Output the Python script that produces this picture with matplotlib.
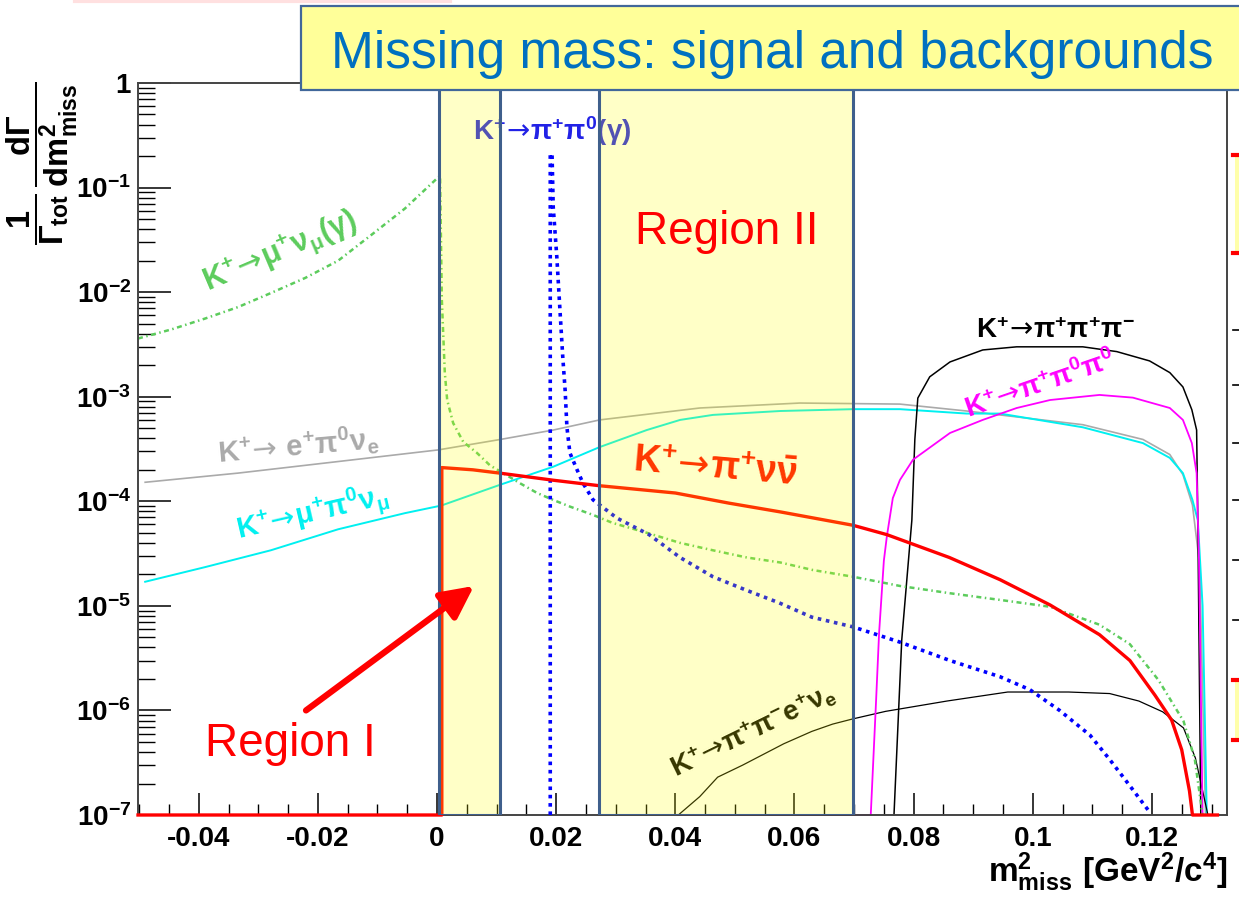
import numpy as np
import matplotlib
matplotlib.use('Agg')
import matplotlib.pyplot as plt
from matplotlib.patches import Rectangle
from matplotlib.lines import Line2D
from matplotlib.ticker import LogLocator, NullFormatter, MultipleLocator, FixedLocator

plt.rcParams['font.family'] = ['Liberation Sans', 'DejaVu Sans']
plt.rcParams['mathtext.fontset'] = 'custom'
plt.rcParams['mathtext.rm'] = 'DejaVu Sans'
plt.rcParams['mathtext.bf'] = 'Liberation Sans:bold'
plt.rcParams['mathtext.it'] = 'Liberation Sans:bold:italic'

# DADOS
# K+ -> pi+ nu nubar (sinal)
x_pnn = [-0.0502, 0.0008, 0.0008, 0.0060, 0.0105, 0.0195, 0.0272, 0.040, 0.049, 0.0577,
         0.0698, 0.0755, 0.086, 0.0945, 0.1029, 0.1112, 0.1163, 0.1205, 0.1233, 0.1250,
         0.1263, 0.1268, 0.1310]
y_pnn = [1e-7, 1e-7, 2.1e-4, 2.0e-4, 1.86e-4, 1.59e-4, 1.41e-4, 1.2e-4, 9.6e-5, 7.9e-5,
         5.9e-5, 4.8e-5, 2.9e-5, 1.78e-5, 1.02e-5, 5.3e-6, 3.0e-6, 1.4e-6, 8.1e-7, 4.2e-7,
         1.7e-7, 1e-7, 1e-7]

# K+ -> pi+ pi0 (gamma)
x_ppi0 = [0.0190, 0.0190, 0.0193, 0.0195, 0.0201, 0.0206, 0.0211, 0.0215, 0.0218, 0.0223,
          0.0235, 0.0245, 0.0262, 0.0279, 0.0302, 0.0356, 0.0408, 0.0463, 0.0518, 0.0574,
          0.0629, 0.0698, 0.0777, 0.0861, 0.0945, 0.0995, 0.1045, 0.1096, 0.1129, 0.1163, 0.1196]
y_ppi0 = [1e-7, 0.21, 0.21, 0.065, 0.0218, 7.2e-3, 2.4e-3, 1.15e-3, 5.1e-4, 2.9e-4,
          2.0e-4, 1.49e-4, 1.03e-4, 8.7e-5, 6.9e-5, 4.8e-5, 2.9e-5, 1.9e-5, 1.42e-5, 1.07e-5,
          7.8e-6, 6.3e-6, 4.5e-6, 3.0e-6, 2.1e-6, 1.58e-6, 1.0e-6, 5.8e-7, 3.4e-7, 1.9e-7, 1.07e-7]

# K+ -> mu+ nu (gamma)
x_munu = [-0.0502, -0.0446, -0.0389, -0.0334, -0.0279, -0.0221, -0.0166, -0.0111, -0.0054, -0.0003,
          0.0005, 0.0008, 0.0013, 0.0017, 0.0027, 0.0044, 0.0067, 0.0089, 0.0111, 0.0139,
          0.0168, 0.0195, 0.0223, 0.0262, 0.0295, 0.0352, 0.0408, 0.0463, 0.0520, 0.0576,
          0.0631, 0.0698, 0.0777, 0.0861, 0.0945, 0.1029, 0.1112, 0.1163, 0.1211, 0.1253,
          0.1272, 0.1285]
y_munu = [3.6e-3, 4.4e-3, 5.6e-3, 7.2e-3, 9.8e-3, 1.37e-2, 2.0e-2, 3.5e-2, 6.3e-2, 0.118,
          0.13, 8.5e-3, 1.7e-3, 9.3e-4, 5.6e-4, 3.7e-4, 2.9e-4, 2.2e-4, 1.86e-4, 1.49e-4,
          1.2e-4, 1.03e-4, 8.9e-5, 7.4e-5, 6.2e-5, 5.0e-5, 4.0e-5, 3.4e-5, 2.9e-5, 2.6e-5,
          2.2e-5, 1.9e-5, 1.55e-5, 1.32e-5, 1.14e-5, 9.8e-6, 6.6e-6, 4.3e-6, 1.95e-6, 7.9e-7,
          3.4e-7, 1e-7]

# K+ -> e+ pi0 nu_e
x_e3 = [-0.0490, -0.0334, -0.0166, 0.0002, 0.0106, 0.0195, 0.0273, 0.0441, 0.0609, 0.0777,
        0.0889, 0.1084, 0.1185, 0.1230, 0.1252, 0.1268, 0.1280, 0.1290]
y_e3 = [1.52e-4, 1.86e-4, 2.4e-4, 3.1e-4, 3.9e-4, 4.8e-4, 6.0e-4, 7.8e-4, 8.7e-4, 8.5e-4,
        7.3e-4, 5.4e-4, 3.9e-4, 2.8e-4, 1.8e-4, 9.2e-5, 2.5e-5, 1e-7]

# K+ -> mu+ pi0 nu_mu
x_mu3 = [-0.0490, -0.0389, -0.0279, -0.0166, -0.0054, 0.0007, 0.0106, 0.0195, 0.0273, 0.0352,
         0.0408, 0.0463, 0.0576, 0.0698, 0.0777, 0.0889, 0.0945, 0.1084, 0.1185, 0.1230,
         0.1252, 0.1268, 0.1277, 0.1285, 0.1292]
y_mu3 = [1.7e-5, 2.35e-5, 3.4e-5, 5.4e-5, 7.7e-5, 9.1e-5, 1.44e-4, 2.14e-4, 3.3e-4, 4.8e-4,
         6.0e-4, 6.7e-4, 7.3e-4, 7.6e-4, 7.6e-4, 6.9e-4, 6.9e-4, 5.1e-4, 3.6e-4, 2.6e-4,
         1.86e-4, 1.03e-4, 6.6e-5, 1e-5, 1e-7]

# K+ -> pi+ pi+ pi-
x_3pi = [0.0767, 0.0780, 0.0797, 0.0802, 0.0807, 0.0827, 0.0861, 0.0916, 0.0973, 0.1084,
         0.1141, 0.1196, 0.1230, 0.1252, 0.1267, 0.1275, 0.1277, 0.1282]
y_3pi = [1e-7, 4.7e-6, 6.6e-5, 3.9e-4, 9.7e-4, 1.55e-3, 2.15e-3, 2.8e-3, 3.0e-3, 3.0e-3,
         2.7e-3, 2.2e-3, 1.7e-3, 1.24e-3, 7.5e-4, 4.8e-4, 6.6e-5, 1e-7]

# K+ -> pi+ pi0 pi0
x_2pi0 = [0.0405, 0.0728, 0.0737, 0.0742, 0.0750, 0.0755, 0.0765, 0.0777, 0.0799, 0.0861,
          0.0916, 0.0973, 0.1029, 0.1112, 0.1168, 0.1230, 0.1252, 0.1267, 0.1275, 0.1279, 0.1285]
y_2pi0 = [1e-7, 1e-7, 1.26e-6, 5.5e-6, 2.7e-5, 4.6e-5, 1.07e-4, 1.6e-4, 2.5e-4, 4.5e-4,
          6.0e-4, 7.8e-4, 9.3e-4, 1.04e-3, 9.8e-4, 7.8e-4, 6.0e-4, 3.6e-4, 1.86e-4, 2.7e-5, 1e-7]

# K+ -> pi+ pi- e+ nu_e
x_ke4 = [0.0405, 0.0441, 0.0471, 0.0513, 0.0582, 0.0629, 0.0664, 0.0698, 0.0753, 0.0856,
         0.0958, 0.1060, 0.1129, 0.1178, 0.1218, 0.1253, 0.1273, 0.1294]
y_ke4 = [1e-7, 1.5e-7, 2.3e-7, 3.0e-7, 4.8e-7, 6.3e-7, 7.4e-7, 8.3e-7, 9.8e-7, 1.23e-6,
         1.5e-6, 1.5e-6, 1.45e-6, 1.23e-6, 9.7e-7, 6.8e-7, 3.5e-7, 1e-7]

# regioes de sinal
REGIAO_1 = (0.0003, 0.0106)
REGIAO_2 = (0.0272, 0.0698)

xtick_vals = [-0.04, -0.02, 0.0, 0.02, 0.04, 0.06, 0.08, 0.10, 0.12]
xtick_labels = ['-0.04', '-0.02', '0', '0.02', '0.04', '0.06', '0.08', '0.1', '0.12']
ytick_vals = [1e-7, 1e-6, 1e-5, 1e-4, 1e-3, 1e-2, 1e-1, 1.0]
ytick_labels = [r'$\mathbf{10^{-7}}$', r'$\mathbf{10^{-6}}$', r'$\mathbf{10^{-5}}$',
                r'$\mathbf{10^{-4}}$', r'$\mathbf{10^{-3}}$', r'$\mathbf{10^{-2}}$',
                r'$\mathbf{10^{-1}}$', '1']

W, H = 1239, 898


def decay(produtos):
    # "K+ -> produtos" com a seta em DejaVu (mais comprida e centrada)
    return r'$\mathbf{K^{+}}\!\rightarrow\!\mathbf{' + produtos + '}$'


def px(x, y):
    # pixel da imagem -> fracao da figura
    return x / W, 1 - y / H


fig = plt.figure(figsize=(W / 100, H / 100), dpi=100)
ax = fig.add_axes([138 / W, 1 - 815 / H, (1227 - 138) / W, (815 - 83) / H])

ax.set_yscale('log')
ax.set_xlim(-0.0502, 0.1326)
ax.set_ylim(1e-7, 1.0)

ax.plot(x_e3, y_e3, color='#aaaaaa', lw=1.2, clip_on=False, zorder=2)
ax.plot(x_mu3, y_mu3, color='#00f0f0', lw=1.4, clip_on=False, zorder=2.1)
ax.plot(x_ke4, y_ke4, color='black', lw=0.9, clip_on=False, zorder=2.2)
ax.plot(x_3pi, y_3pi, color='black', lw=1.1, clip_on=False, zorder=2.3)
ax.plot(x_2pi0, y_2pi0, color='#ff00ff', lw=1.3, clip_on=False, zorder=2.4)
ax.plot(x_munu, y_munu, color='#5ccc5c', lw=1.8, dashes=(2.0, 1.4, 0.6, 1.4), clip_on=False, zorder=2.5)
ax.plot(x_ppi0, y_ppi0, color='#0000ff', lw=2.6, dashes=(1, 1.3), clip_on=False, zorder=2.6)
ax.plot(x_pnn, y_pnn, color='#ff0000', lw=2.4, clip_on=False, zorder=2.7)

# faixas amarelas por cima das curvas
for x0, x1 in (REGIAO_1, REGIAO_2):
    ax.axvspan(x0, x1, facecolor=(1, 1, 0, 0.22), edgecolor='#3f5f8c', lw=2.2, zorder=3)

ax.xaxis.set_major_locator(FixedLocator(xtick_vals))
ax.set_xticklabels(xtick_labels)
ax.xaxis.set_minor_locator(MultipleLocator(0.005))
ax.set_yticks(ytick_vals)
ax.set_yticklabels(ytick_labels)
ax.yaxis.set_minor_locator(LogLocator(base=10, subs=np.arange(2, 10)))
ax.yaxis.set_minor_formatter(NullFormatter())

ax.tick_params(axis='x', which='major', direction='in', length=16, width=1.1, pad=8,
               labelsize=20)
ax.tick_params(axis='x', which='minor', direction='in', length=8, width=1.0)
ax.tick_params(axis='y', which='major', direction='in', length=24, width=1.1, pad=5,
               labelsize=20)
ax.tick_params(axis='y', which='minor', direction='in', length=12, width=1.0)
for lab in ax.get_xticklabels() + ax.get_yticklabels():
    lab.set_fontweight('bold')
for s in ax.spines.values():
    s.set_color('#444444')
    s.set_linewidth(1.4)

# rotulos das curvas
txt = dict(transform=fig.transFigure, ha='center', va='center', zorder=2.9)
ax.text(*px(280, 252), decay(r'\mu^{+}\nu_{\mu}(\gamma)'), color='#5ccc5c',
        fontsize=22, rotation=23, **txt)
ax.text(*px(298, 445), decay(r'\ e^{+}\pi^{0}\nu_{e}'), color='#aaaaaa',
        fontsize=21, rotation=5, **txt)
ax.text(*px(312, 513), decay(r'\mu^{+}\pi^{0}\nu_{\mu}'), color='#00f0f0',
        fontsize=21, rotation=13, **txt)
ax.text(*px(552, 131), decay(r'\pi^{+}\pi^{0}(\gamma)'), color='#2222e6',
        fontsize=20, rotation=0, **txt)
ax.text(*px(715, 468), decay(r'\pi^{+}\nu\bar{\nu}'), color='#ff0000',
        fontsize=27, rotation=-5, **txt)
ax.text(*px(1055, 331), decay(r'\pi^{+}\pi^{+}\pi^{-}'), color='black',
        fontsize=20, rotation=0, **txt)
ax.text(*px(1040, 385), decay(r'\pi^{+}\pi^{0}\pi^{0}'), color='#ff00ff',
        fontsize=20, rotation=19, **txt)
ax.text(*px(753, 731), decay(r'\pi^{+}\pi^{-}e^{+}\nu_{e}'), color='black',
        fontsize=20, rotation=26, **txt)

# textos das regioes
fig.text(*px(727, 244), 'Region II', color='#ff0000', fontsize=33, ha='center', va='baseline',
         zorder=5)
fig.text(*px(290, 756), 'Region I', color='#ff0000', fontsize=33, ha='center', va='baseline',
         zorder=5)
ax.annotate('', xy=(0.0062, 1.55e-5), xytext=(-0.022, 1.0e-6),
            arrowprops=dict(arrowstyle='-|>,head_length=0.9,head_width=0.45', color='#ff0000',
                            lw=4.5, mutation_scale=22, shrinkA=0, shrinkB=0), zorder=5)

# eixos
fig.text(*px(42, 163), r'$\dfrac{\mathbf{1}}{\mathbf{\Gamma_{tot}}}\,\dfrac{\mathbf{d\Gamma}}{\mathbf{dm^{2}_{miss}}}$',
         fontsize=23.5, rotation=90, ha='center', va='center')
fig.text(*px(1227, 882), r'$\mathbf{m^{2}_{miss}\ [GeV^{2}/c^{4}]}$', fontsize=24,
         ha='right', va='baseline')

# caixa do titulo
x0, y0 = px(301, 90)
fig.add_artist(Rectangle((x0, y0), 1.0, 84 / H, transform=fig.transFigure,
                         facecolor='#ffff99', edgecolor='#41679a', lw=1.6, zorder=10))
fig.text(*px(772, 68), 'Missing mass: signal and backgrounds', color='#0070c0', fontsize=37,
         ha='center', va='baseline', zorder=11)

# restos de outro painel na borda direita
for yy in (155, 253, 680, 740):
    fig.add_artist(Line2D([1233 / W, 1.0], [1 - yy / H] * 2, color='#ff0000', lw=3,
                          transform=fig.transFigure))
for ya, yb in ((155, 253), (680, 740)):
    fig.add_artist(Rectangle((1235 / W, 1 - yb / H), 5 / W, (yb - ya) / H, transform=fig.transFigure,
                             facecolor='#ffffaa', edgecolor='none'))
for yy in (330, 385, 443, 500, 560, 620):
    fig.add_artist(Line2D([1233 / W, 1.0], [1 - yy / H] * 2, color='black', lw=1.2,
                          transform=fig.transFigure))
fig.add_artist(Line2D([75 / W, 450 / W], [1 - 1 / H] * 2, color='#ffe0e0', lw=3,
                      transform=fig.transFigure))

fig.savefig('out.png', dpi=100)
